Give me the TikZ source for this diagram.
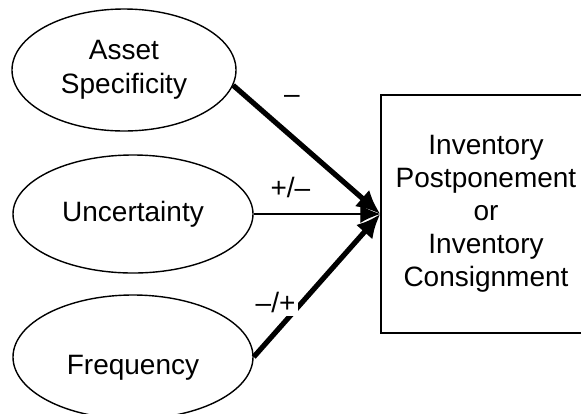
\documentclass[tikz,border=0pt]{standalone}
\usepackage{fontspec}
\setmainfont{Liberation Sans}
\usetikzlibrary{arrows.meta,shapes.geometric}

\begin{document}
\begin{tikzpicture}[x=0.5pt, y=-0.5pt,
	factor/.style={draw, ellipse, line width=0.7pt, inner sep=0pt, align=center, font=\fontsize{14}{17}\selectfont},
	outcome/.style={draw, rectangle, line width=0.7pt, inner sep=0pt, align=center, minimum width=105pt, minimum height=119pt, font=\fontsize{14}{16.5}\selectfont},
	thickarr/.style={-{Latex[length=12pt,width=11pt]}, line width=2.6pt},
	thinarr/.style={-{Latex[length=10pt,width=9pt]}, line width=0.6pt},
	sign/.style={font=\fontsize{14}{16}\selectfont, inner sep=1.5pt}]
	\clip (0,0) rectangle (581,413);
	\node[factor, minimum width=112pt, minimum height=61pt] (asset) at (124,70) {Asset\\Specificity};
	\node[factor, minimum width=120pt, minimum height=59pt] (uncert) at (133,214) {Uncertainty};
	\node[factor, minimum width=120pt, minimum height=62pt, text height=20pt, text depth=3pt] (freq) at (133,357) {Frequency};
	\node[outcome] (inv) at (486,214) {Inventory\\Postponement\\or\\Inventory\\Consignment};
	
	\draw[thickarr] (asset.-8) -- node[sign, pos=0.4, yshift=18.5pt] {--} (inv.west);
	\draw[thinarr] (uncert.east) -- node[sign, pos=0.29, yshift=13.5pt] {+/--} (inv.west);
	\draw[thickarr] (freq.east) -- node[sign, pos=0.378, xshift=-13pt, fill=white] {--/+} (inv.west);
\end{tikzpicture}
\end{document}
